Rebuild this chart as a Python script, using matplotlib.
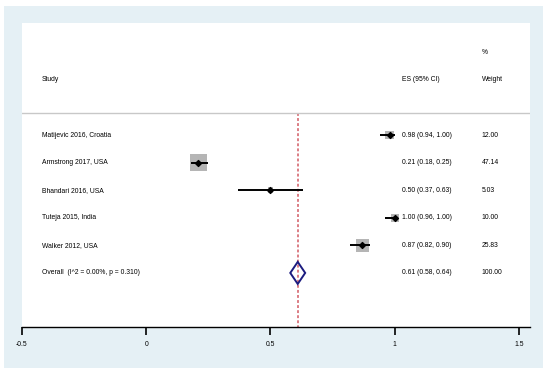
import matplotlib
matplotlib.use("Agg")
import matplotlib.pyplot as plt
from matplotlib.patches import Rectangle, Polygon
import numpy as np

plt.rcParams['font.family'] = ['Liberation Sans', 'DejaVu Sans']

studies = ["Matijevic 2016, Croatia", "Armstrong 2017, USA", "Bhandari 2016, USA",
           "Tuteja 2015, India", "Walker 2012, USA"]
es = [0.98, 0.21, 0.50, 1.00, 0.87]
lo = [0.94, 0.18, 0.37, 0.96, 0.82]
hi = [1.00, 0.25, 0.63, 1.00, 0.90]
weights = [12.00, 47.14, 5.03, 10.00, 25.83]

overall_label = "Overall  (I^2 = 0.00%, p = 0.310)"
overall = (0.61, 0.58, 0.64)
overall_weight = 100.00

xticks = [-0.5, 0, 0.5, 1, 1.5]
xticklabels = ["-0.5", "0", "0.5", "1", "1.5"]

FS = 4.9
W, H = 550, 378
fig = plt.figure(figsize=(W / 100, H / 100), dpi=100)
fig.patch.set_facecolor("white")

# light blue frame behind the plot region
fig.patches.append(Rectangle((4 / W, 1 - 368 / H), 539 / W, 362 / H,
                             transform=fig.transFigure, facecolor="#e5f0f5",
                             edgecolor="none", zorder=-1))

ax = fig.add_axes([22 / W, 1 - 327 / H, 508 / W, 304 / H])
ax.set_zorder(1)
ax.set_facecolor("white")
ax.set_xlim(-0.5, 1.545)
ax.set_ylim(6.96, -4.06)

for s in ["top", "right", "left"]:
    ax.spines[s].set_visible(False)
ax.spines["bottom"].set_linewidth(1.0)
ax.set_yticks([])
ax.set_xticks(xticks)
ax.set_xticklabels(xticklabels, fontsize=FS)
ax.tick_params(axis="x", direction="out", length=6, width=1.2, pad=4)

rows = np.arange(len(studies))

# header
ax.text(-0.42, -2, "Study", fontsize=FS, va="center")
ax.text(1.03, -2, "ES (95% CI)", fontsize=FS, va="center")
ax.text(1.35, -3, "%", fontsize=FS, va="center")
ax.text(1.35, -2, "Weight", fontsize=FS, va="center")
ax.axhline(-0.8, color="#c8c8c8", lw=1.0)

# reference line at overall estimate
ax.plot([overall[0], overall[0]], [-0.8, 6.96], color="#d9737b", lw=1.3,
        ls=(0, (1.6, 1.2)), zorder=1)

# weight boxes
side_px = 17.5 * np.sqrt(np.array(weights) / max(weights))
ax.scatter(es, rows, marker="s", s=(side_px * 0.72) ** 2, color="#b5b5b5",
           edgecolors="none", zorder=2)
# CIs and point estimates
ax.hlines(rows, lo, hi, color="black", lw=1.4, zorder=3)
ax.scatter(es, rows, marker="D", s=9, color="black", zorder=4)

for i, name in enumerate(studies):
    ax.text(-0.42, i, name, fontsize=FS, va="center")
    ax.text(1.03, i, f"{es[i]:.2f} ({lo[i]:.2f}, {hi[i]:.2f})", fontsize=FS, va="center")
    ax.text(1.35, i, f"{weights[i]:.2f}", fontsize=FS, va="center")

# overall diamond
r = len(studies)
m, l, h = overall
ax.add_patch(Polygon([(l, r), (m, r - 0.4), (h, r), (m, r + 0.4)], closed=True,
                     fill=False, edgecolor="#1c1c80", lw=1.4, zorder=5))
ax.text(-0.42, r, overall_label, fontsize=FS, va="center")
ax.text(1.03, r, f"{m:.2f} ({l:.2f}, {h:.2f})", fontsize=FS, va="center")
ax.text(1.35, r, f"{overall_weight:.2f}", fontsize=FS, va="center")

fig.savefig("out.png", dpi=100)
